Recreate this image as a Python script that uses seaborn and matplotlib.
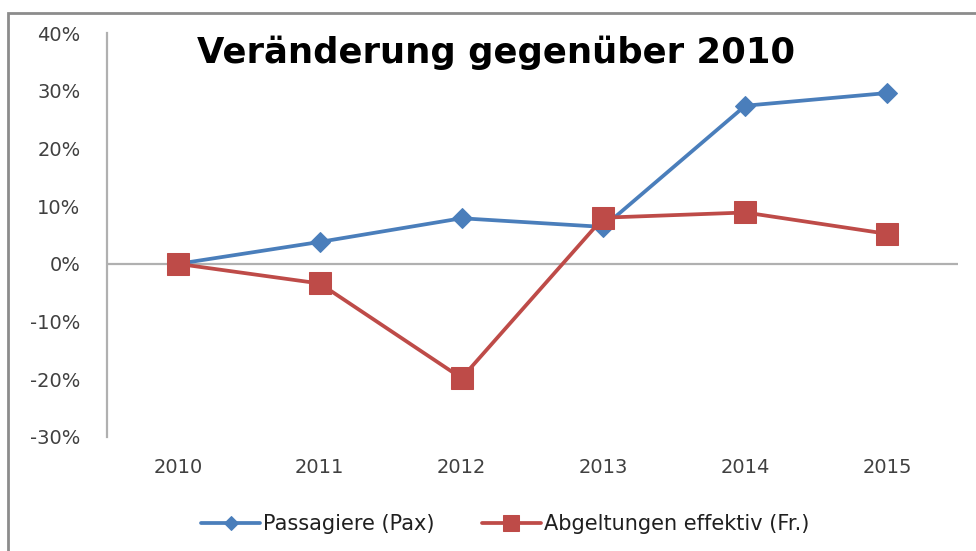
import pandas as pd
import matplotlib.pyplot as plt
import matplotlib.patches as mpatches
from matplotlib.ticker import FuncFormatter
import seaborn as sns

# Daten (Veränderung gegenüber 2010, in %)
years = ['2010', '2011', '2012', '2013', '2014', '2015']
pax = [0.0, 3.8, 7.9, 6.4, 27.4, 29.6]
abgeltungen = [0.0, -3.4, -19.8, 8.0, 8.9, 5.2]
series_names = ['Passagiere (Pax)', 'Abgeltungen effektiv (Fr.)']

df = pd.DataFrame({
    'Jahr': years * 2,
    'Wert': pax + abgeltungen,
    'Serie': [series_names[0]] * len(years) + [series_names[1]] * len(years),
})

sns.set_style('white')
plt.rcParams['font.family'] = ['DejaVu Sans']

fig = plt.figure(figsize=(9.76, 5.51), dpi=100)
ax = fig.add_axes([0.1096, 0.2069, 0.8720, 0.7332])

# Rahmen um das Diagramm
fig.patches.append(mpatches.Rectangle((8 / 976, -0.05), 1.2, 1 - 13 / 551 + 0.05,
                                      transform=fig.transFigure, fill=False,
                                      edgecolor='#8c8c8c', linewidth=2))

palette = {series_names[0]: '#4A7EBB', series_names[1]: '#BE4B48'}
markers = {series_names[0]: 'D', series_names[1]: 's'}
sizes_m = {series_names[0]: 10, series_names[1]: 16}

for name in series_names:
    sub = df[df['Serie'] == name]
    sns.lineplot(data=sub, x='Jahr', y='Wert', ax=ax, color=palette[name],
                 marker=markers[name], markersize=sizes_m[name], linewidth=2.7,
                 markeredgecolor=palette[name], label=name, sort=False)

ax.axhline(0, color='#b0b0b0', linewidth=1.6, zorder=1)
ax.set_xlim(-0.5, 5.5)
ax.set_ylim(-30, 40)
ax.set_yticks(range(-30, 41, 10))
ax.yaxis.set_major_formatter(FuncFormatter(lambda v, p: f'{v:.0f}%'))
ax.set_xlabel('')
ax.set_ylabel('')

for s in ['top', 'right', 'bottom']:
    ax.spines[s].set_visible(False)
ax.spines['left'].set_color('#b0b0b0')
ax.spines['left'].set_linewidth(1.6)
ax.tick_params(axis='y', length=0, pad=19, labelsize=14, labelcolor='#404040')
ax.tick_params(axis='x', length=0, pad=15, labelsize=14, labelcolor='#404040')

fig.text(0.5087, 1 - 63 / 551, 'Veränderung gegenüber 2010', ha='center', va='baseline',
         fontsize=25.5, fontweight='bold', color='black')

ax.legend(loc='center', bbox_to_anchor=(0.468, -0.216), ncol=2, frameon=False,
          fontsize=15, handlelength=2.8, handletextpad=0.15, columnspacing=2.3,
          markerscale=0.7, labelcolor='#202020')

fig.savefig('out.png', dpi=100)
